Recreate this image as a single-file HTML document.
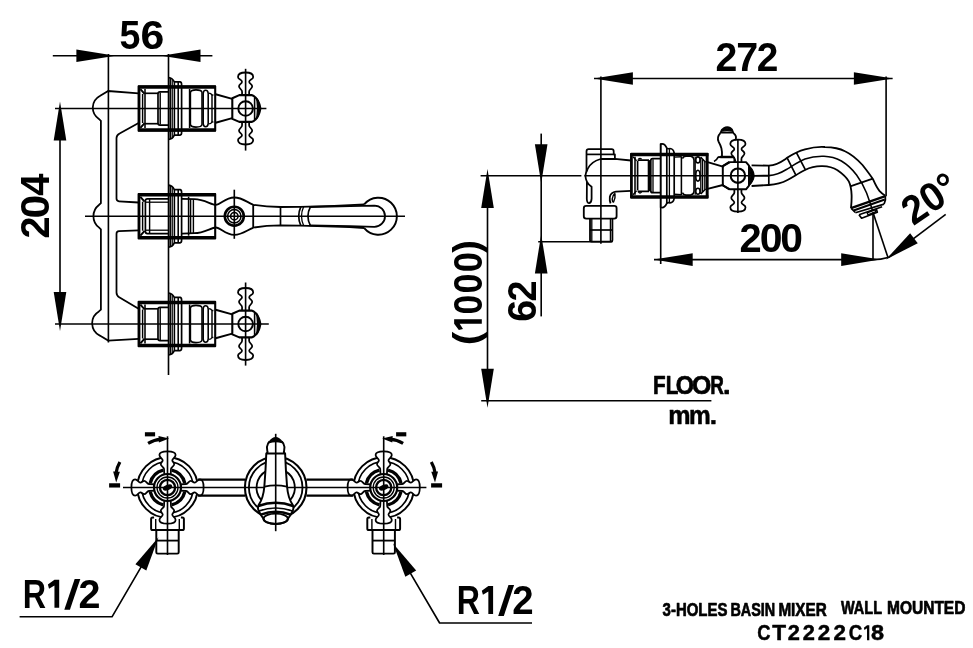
<!DOCTYPE html>
<html><head><meta charset="utf-8"><title>3-Holes Basin Mixer CT2222C18</title>
<style>
html,body{margin:0;padding:0;background:#fff;}
body{width:973px;height:648px;overflow:hidden;font-family:"Liberation Sans",sans-serif;}
svg{display:block;will-change:transform;opacity:0.999;}
svg text{font-family:"Liberation Sans",sans-serif;fill:#000;stroke:none;}
</style></head><body>
<svg width="973" height="648" viewBox="0 0 973 648" fill="none" stroke="#000" stroke-linecap="butt" stroke-linejoin="round">
<rect x="0" y="0" width="973" height="648" fill="#fff" stroke="none"/>
<!-- front view -->
<rect x="138.6" y="86.3" width="76.6" height="44.4" rx="0" stroke-width="2.08" fill="none"/>
<line x1="138" y1="87.2" x2="215.8" y2="87.2" stroke-width="3.19" />
<line x1="138" y1="129.8" x2="215.8" y2="129.8" stroke-width="3.19" />
<line x1="139.3" y1="86.5" x2="139.3" y2="130.5" stroke-width="2.21" />
<line x1="142.6" y1="94.0" x2="142.6" y2="123.0" stroke-width="1.43" />
<line x1="145" y1="89.0" x2="145" y2="128.0" stroke-width="1.56" />
<path d="M140.4,89.1 L144.6,93.9 M140.4,127.9 L144.6,123.1" stroke-width="1.95" fill="none" />
<line x1="145" y1="93.3" x2="158" y2="93.3" stroke-width="1.69" />
<line x1="145" y1="123.7" x2="158" y2="123.7" stroke-width="1.69" />
<path d="M168,91.9 L160,91.9 Q158,91.9 158,94.0 L158,123.0 Q158,125.1 160,125.1 L168,125.1" stroke-width="1.69" fill="none" />
<line x1="160.2" y1="92.5" x2="160.2" y2="124.5" stroke-width="1.43" />
<path d="M168.6,77.5 Q172.5,78.0 174.3,81.9 L180,81.9 Q181.6,82.1 181.6,84.5 L181.6,132.5 Q181.6,134.9 180,135.1 L174.3,135.1 Q172.5,139.0 168.6,139.5" stroke-width="1.69" fill="none" />
<line x1="170.2" y1="77.9" x2="170.2" y2="139.1" stroke-width="1.56" />
<line x1="172.2" y1="79.5" x2="172.2" y2="137.5" stroke-width="1.30" />
<line x1="174.4" y1="81.9" x2="174.4" y2="135.1" stroke-width="1.56" />
<line x1="178.2" y1="81.9" x2="178.2" y2="135.1" stroke-width="1.56" />
<line x1="189.6" y1="89.0" x2="189.6" y2="128.0" stroke-width="1.56" />
<path d="M190.4,92.5 Q191,89.9 196,89.9 Q201.6,89.9 202,92.5 L202,124.5 Q201.6,127.1 196,127.1 Q191,127.1 190.4,124.5 Z" stroke-width="1.56" fill="none" />
<path d="M203.2,93.5 Q203.4,90.3 205.6,90.3 Q208,90.3 208.2,93.5 L208.2,123.5 Q208,126.7 205.6,126.7 Q203.4,126.7 203.2,123.5 Z" stroke-width="1.56" fill="none" />
<path d="M208.8,93.1 Q211,93.1 212,95.0 L213.4,95.0 M208.8,123.9 Q211,123.9 212,122.0 L213.4,122.0" stroke-width="1.43" fill="none" />
<line x1="212" y1="95.0" x2="212" y2="122.0" stroke-width="1.43" />
<path d="M215.6,94.3 L232.2,98.9 M215.6,122.7 L232.2,118.1" stroke-width="1.95" fill="none" />
<path d="M232.3,98.3 L232.3,118.9 L239.3,121.9 L251.6,121.9 Q258.6,119.5 260.4,108.5 Q258.6,97.5 251.6,95.1 L239.3,95.1 Z" stroke-width="2.08" fill="none" />
<line x1="254.6" y1="96.9" x2="254.6" y2="120.1" stroke-width="1.56" />
<path d="M256.8,98.7 Q263.2,108.5 256.8,118.3 Q258.4,108.5 256.8,98.7 Z" stroke-width="1.30" fill="#000" />
<circle cx="245.6" cy="108.5" r="7.3" stroke-width="1.95" fill="none"/>
<path d="M-3.6,-13.4 L-3.5,-16.6 C-3.4,-19 -6.7,-20 -6.6,-22.3 C-6.5,-24.5 -3.6,-24.8 -3.6,-26.8 C-3.6,-29 -7.6,-29 -7.6,-31.6 C-7.6,-34.6 -4.5,-36 0,-36 C4.5,-36 7.6,-34.6 7.6,-31.6 C7.6,-29 3.6,-29 3.6,-26.8 C3.6,-24.8 6.5,-24.5 6.6,-22.3 C6.7,-20 3.4,-19 3.5,-16.6 L3.6,-13.4" transform="translate(245.6,108.5) rotate(0)" stroke-width="1.76"/>
<path d="M-3.6,-13.4 L-3.5,-16.6 C-3.4,-19 -6.7,-20 -6.6,-22.3 C-6.5,-24.5 -3.6,-24.8 -3.6,-26.8 C-3.6,-29 -7.6,-29 -7.6,-31.6 C-7.6,-34.6 -4.5,-36 0,-36 C4.5,-36 7.6,-34.6 7.6,-31.6 C7.6,-29 3.6,-29 3.6,-26.8 C3.6,-24.8 6.5,-24.5 6.6,-22.3 C6.7,-20 3.4,-19 3.5,-16.6 L3.6,-13.4" transform="translate(245.6,108.5) rotate(180)" stroke-width="1.76"/>
<line x1="245.6" y1="68.8" x2="245.6" y2="150.6" stroke-width="1.62" />
<rect x="138.6" y="301.8" width="76.6" height="44.4" rx="0" stroke-width="2.08" fill="none"/>
<line x1="138" y1="302.7" x2="215.8" y2="302.7" stroke-width="3.19" />
<line x1="138" y1="345.3" x2="215.8" y2="345.3" stroke-width="3.19" />
<line x1="139.3" y1="302.0" x2="139.3" y2="346.0" stroke-width="2.21" />
<line x1="142.6" y1="309.5" x2="142.6" y2="338.5" stroke-width="1.43" />
<line x1="145" y1="304.5" x2="145" y2="343.5" stroke-width="1.56" />
<path d="M140.4,304.6 L144.6,309.4 M140.4,343.4 L144.6,338.6" stroke-width="1.95" fill="none" />
<line x1="145" y1="308.8" x2="158" y2="308.8" stroke-width="1.69" />
<line x1="145" y1="339.2" x2="158" y2="339.2" stroke-width="1.69" />
<path d="M168,307.4 L160,307.4 Q158,307.4 158,309.5 L158,338.5 Q158,340.6 160,340.6 L168,340.6" stroke-width="1.69" fill="none" />
<line x1="160.2" y1="308.0" x2="160.2" y2="340.0" stroke-width="1.43" />
<path d="M168.6,293.0 Q172.5,293.5 174.3,297.4 L180,297.4 Q181.6,297.6 181.6,300.0 L181.6,348.0 Q181.6,350.4 180,350.6 L174.3,350.6 Q172.5,354.5 168.6,355.0" stroke-width="1.69" fill="none" />
<line x1="170.2" y1="293.4" x2="170.2" y2="354.6" stroke-width="1.56" />
<line x1="172.2" y1="295.0" x2="172.2" y2="353.0" stroke-width="1.30" />
<line x1="174.4" y1="297.4" x2="174.4" y2="350.6" stroke-width="1.56" />
<line x1="178.2" y1="297.4" x2="178.2" y2="350.6" stroke-width="1.56" />
<line x1="189.6" y1="304.5" x2="189.6" y2="343.5" stroke-width="1.56" />
<path d="M190.4,308.0 Q191,305.4 196,305.4 Q201.6,305.4 202,308.0 L202,340.0 Q201.6,342.6 196,342.6 Q191,342.6 190.4,340.0 Z" stroke-width="1.56" fill="none" />
<path d="M203.2,309.0 Q203.4,305.8 205.6,305.8 Q208,305.8 208.2,309.0 L208.2,339.0 Q208,342.2 205.6,342.2 Q203.4,342.2 203.2,339.0 Z" stroke-width="1.56" fill="none" />
<path d="M208.8,308.6 Q211,308.6 212,310.5 L213.4,310.5 M208.8,339.4 Q211,339.4 212,337.5 L213.4,337.5" stroke-width="1.43" fill="none" />
<line x1="212" y1="310.5" x2="212" y2="337.5" stroke-width="1.43" />
<path d="M215.6,309.8 L232.2,314.4 M215.6,338.2 L232.2,333.6" stroke-width="1.95" fill="none" />
<path d="M232.3,313.8 L232.3,334.4 L239.3,337.4 L251.6,337.4 Q258.6,335.0 260.4,324.0 Q258.6,313.0 251.6,310.6 L239.3,310.6 Z" stroke-width="2.08" fill="none" />
<line x1="254.6" y1="312.4" x2="254.6" y2="335.6" stroke-width="1.56" />
<path d="M256.8,314.2 Q263.2,324.0 256.8,333.8 Q258.4,324.0 256.8,314.2 Z" stroke-width="1.30" fill="#000" />
<circle cx="245.6" cy="324.0" r="7.3" stroke-width="1.95" fill="none"/>
<path d="M-3.6,-13.4 L-3.5,-16.6 C-3.4,-19 -6.7,-20 -6.6,-22.3 C-6.5,-24.5 -3.6,-24.8 -3.6,-26.8 C-3.6,-29 -7.6,-29 -7.6,-31.6 C-7.6,-34.6 -4.5,-36 0,-36 C4.5,-36 7.6,-34.6 7.6,-31.6 C7.6,-29 3.6,-29 3.6,-26.8 C3.6,-24.8 6.5,-24.5 6.6,-22.3 C6.7,-20 3.4,-19 3.5,-16.6 L3.6,-13.4" transform="translate(245.6,324.0) rotate(0)" stroke-width="1.76"/>
<path d="M-3.6,-13.4 L-3.5,-16.6 C-3.4,-19 -6.7,-20 -6.6,-22.3 C-6.5,-24.5 -3.6,-24.8 -3.6,-26.8 C-3.6,-29 -7.6,-29 -7.6,-31.6 C-7.6,-34.6 -4.5,-36 0,-36 C4.5,-36 7.6,-34.6 7.6,-31.6 C7.6,-29 3.6,-29 3.6,-26.8 C3.6,-24.8 6.5,-24.5 6.6,-22.3 C6.7,-20 3.4,-19 3.5,-16.6 L3.6,-13.4" transform="translate(245.6,324.0) rotate(180)" stroke-width="1.76"/>
<line x1="245.6" y1="282.5" x2="245.6" y2="365.6" stroke-width="1.62" />
<line x1="55" y1="108.5" x2="266.4" y2="108.5" stroke-width="1.62" />
<line x1="55" y1="324.0" x2="268.8" y2="324.0" stroke-width="1.62" />
<rect x="138.6" y="194.0" width="76.6" height="44.4" rx="0" stroke-width="2.08" fill="none"/>
<line x1="138" y1="194.89999999999998" x2="215.8" y2="194.89999999999998" stroke-width="3.19" />
<line x1="138" y1="237.5" x2="215.8" y2="237.5" stroke-width="3.19" />
<line x1="139.3" y1="194.2" x2="139.3" y2="238.2" stroke-width="2.21" />
<line x1="142.6" y1="201.7" x2="142.6" y2="230.7" stroke-width="1.43" />
<path d="M140.4,196.79999999999998 L144.6,201.6 M140.4,235.6 L144.6,230.79999999999998" stroke-width="1.95" fill="none" />
<path d="M168,198.79999999999998 L147.4,198.79999999999998 Q145.4,198.79999999999998 145.4,200.79999999999998 L145.4,231.6 Q145.4,233.6 147.4,233.6 L168,233.6" stroke-width="1.69" fill="none" />
<line x1="149.6" y1="199.2" x2="149.6" y2="233.2" stroke-width="1.43" />
<line x1="145.4" y1="202.2" x2="168" y2="202.2" stroke-width="1.30" />
<line x1="145.4" y1="230.2" x2="168" y2="230.2" stroke-width="1.30" />
<path d="M168.6,185.2 Q172.5,185.7 174.3,189.6 L180,189.6 Q181.6,189.79999999999998 181.6,192.2 L181.6,240.2 Q181.6,242.6 180,242.79999999999998 L174.3,242.79999999999998 Q172.5,246.7 168.6,247.2" stroke-width="1.69" fill="none" />
<line x1="170.2" y1="185.6" x2="170.2" y2="246.79999999999998" stroke-width="1.56" />
<line x1="172.2" y1="187.2" x2="172.2" y2="245.2" stroke-width="1.30" />
<line x1="174.4" y1="189.6" x2="174.4" y2="242.79999999999998" stroke-width="1.56" />
<line x1="178.2" y1="189.6" x2="178.2" y2="242.79999999999998" stroke-width="1.56" />
<line x1="188.6" y1="196.7" x2="188.6" y2="235.7" stroke-width="1.56" />
<line x1="190.6" y1="199.0" x2="190.6" y2="233.39999999999998" stroke-width="1.43" />
<line x1="193.4" y1="199.0" x2="193.4" y2="233.39999999999998" stroke-width="1.43" />
<path d="M182,198.79999999999998 L194.4,199.2 C204,199.29999999999998 211,204.6 215.8,204.89999999999998 C220.6,205.0 225,197.5 234.3,197.5 C242,197.5 247,202.2 253,204.6" stroke-width="1.82" fill="none" />
<path d="M182,233.6 L194.4,233.2 C204,233.1 211,227.79999999999998 215.8,227.5 C220.6,227.39999999999998 225,234.89999999999998 234.3,234.89999999999998 C242,234.89999999999998 247,230.2 253,227.79999999999998" stroke-width="1.82" fill="none" />
<line x1="253.2" y1="204.2" x2="253.2" y2="228.2" stroke-width="1.82" />
<circle cx="234.3" cy="216.2" r="9.5" stroke-width="2.60" fill="none"/>
<circle cx="234.3" cy="216.2" r="6.7" stroke-width="1.56" fill="none"/>
<circle cx="234.3" cy="216.2" r="3.7" stroke-width="1.56" fill="none"/>
<line x1="234.3" y1="189.7" x2="234.3" y2="238.79999999999998" stroke-width="1.62" />
<path d="M253.2,204.79999999999998 Q266,206.79999999999998 280.5,207.0 L300,206.79999999999998 Q336,206.2 364.4,204.39999999999998" stroke-width="1.82" fill="none" />
<path d="M253.2,227.6 Q266,225.6 280.5,225.39999999999998 L300,225.6 Q336,226.2 364.4,228.0" stroke-width="1.82" fill="none" />
<line x1="280.5" y1="207.0" x2="280.5" y2="225.39999999999998" stroke-width="1.69" />
<path d="M300.8,206.79999999999998 Q296.6,216.2 300.8,225.6" stroke-width="1.69" fill="none" />
<path d="M303.6,206.79999999999998 Q299.4,216.2 303.6,225.6" stroke-width="1.30" fill="none" />
<path d="M310.4,206.79999999999998 Q305.4,216.2 310.4,225.6" stroke-width="1.69" fill="none" />
<path d="M309.4,207.0 L350,206.2 L374.4,205.6 A10.6,10.6 0 0 1 374.4,226.79999999999998 L350,226.2 L309.4,225.39999999999998" stroke-width="1.82" fill="none" />
<path d="M364.2,204.29999999999998 A18.5,18.5 0 1 1 364.2,228.1" stroke-width="1.95" fill="none" />
<line x1="85" y1="216.2" x2="405" y2="216.2" stroke-width="1.62" />
<path d="M138.6,93.4 L108.2,91.0 L99.8,95.9 A13.4,13.4 0 0 0 98.9,118.9 L100.9,120.8 L100.9,203.1 L98.9,205.0 A14.2,14.2 0 0 0 98.9,227.39999999999998 L100.9,229.29999999999998 L100.9,309.6 L98.9,311.4 A13.8,13.8 0 0 0 99.8,335.6 L108.2,340.6 L138.6,338.8" stroke-width="1.76" fill="none" stroke-linejoin="miter"/>
<path d="M138.6,123.1 L119.6,133.5 Q116.5,135.1 116.5,138.1 L116.5,198.6 Q116.5,201.2 119,201.29999999999998 L138.6,202.5" stroke-width="1.76" fill="none" />
<path d="M138.6,230.29999999999998 L119,231.1 Q116.5,231.2 116.5,233.79999999999998 L116.5,292.4 Q116.5,295.4 119.2,297.2 L138.6,308.7" stroke-width="1.76" fill="none" />
<line x1="52.8" y1="55.8" x2="212.4" y2="55.8" stroke-width="1.62" />
<polygon points="115.40,55.80 76.40,62.10 76.40,49.50" fill="#000" stroke="none"/>
<polygon points="161.50,55.80 200.50,49.50 200.50,62.10" fill="#000" stroke="none"/>
<line x1="108.4" y1="54" x2="108.4" y2="342.5" stroke-width="1.62" />
<line x1="168.5" y1="54" x2="168.5" y2="375" stroke-width="1.62" />
<g><text transform="translate(119.54,48.70) scale(0.9100,1)" font-size="41.3" font-weight="bold" >5</text><text transform="translate(140.53,48.70) scale(1.0368,1)" font-size="41.3" font-weight="bold" >6</text></g>
<line x1="60" y1="118.5" x2="60" y2="314.0" stroke-width="1.62" />
<polygon points="60.00,101.50 66.30,140.50 53.70,140.50" fill="#000" stroke="none"/>
<polygon points="60.00,331.00 53.70,292.00 66.30,292.00" fill="#000" stroke="none"/>
<g transform="translate(49.0,237.2) rotate(-90)"><text transform="translate(-1.38,0.00) scale(0.9629,1)" font-size="41.2" font-weight="bold" >2</text><text transform="translate(18.66,0.00) scale(1.0386,1)" font-size="41.2" font-weight="bold" >0</text><text transform="translate(41.35,0.00) scale(0.9674,1)" font-size="41.2" font-weight="bold" >4</text></g>
<!-- side view -->
<rect x="631.2" y="153.89999999999998" width="76.4" height="43.6" rx="0" stroke-width="2.08" fill="none"/>
<line x1="630.4" y1="154.7" x2="708.4" y2="154.7" stroke-width="3.19" />
<line x1="630.4" y1="196.89999999999998" x2="708.4" y2="196.89999999999998" stroke-width="3.19" />
<line x1="631.5" y1="153.7" x2="631.5" y2="197.7" stroke-width="2.47" />
<line x1="706.8" y1="153.7" x2="706.8" y2="197.7" stroke-width="2.21" />
<line x1="635" y1="156.7" x2="635" y2="194.7" stroke-width="1.56" />
<path d="M633,156.7 L636.6,160.7 M633,194.7 L636.6,190.7" stroke-width="1.30" fill="none" />
<path d="M637.6,161.1 L637.6,190.29999999999998 M637.6,160.1 L649,160.1 M637.6,191.29999999999998 L649,191.29999999999998" stroke-width="1.69" fill="none" />
<path d="M638.4,159.29999999999998 q1.6,-1.8 3.2,0 M638.4,192.1 q1.6,1.8 3.2,0" stroke-width="1.30" fill="none" />
<line x1="649" y1="160.1" x2="649" y2="191.29999999999998" stroke-width="2.60" />
<path d="M660.6,158.7 L652.6,158.7 Q650.8,158.7 650.8,160.7 L650.8,190.7 Q650.8,192.7 652.6,192.7 L660.6,192.7" stroke-width="1.69" fill="none" />
<line x1="653" y1="159.29999999999998" x2="653" y2="192.1" stroke-width="1.30" />
<path d="M660.4,144.1 Q664.4,142.7 666.6,147.7 Q667.6,149.29999999999998 670,148.5 Q673.4,148.7 674.2,153.1 M660.4,207.29999999999998 Q664.4,208.7 666.6,203.7 Q667.6,202.1 670,202.89999999999998 Q673.4,202.7 674.2,198.29999999999998" stroke-width="1.69" fill="none" />
<line x1="660.6" y1="143.7" x2="660.6" y2="207.7" stroke-width="1.56" />
<line x1="666.8" y1="148.1" x2="666.8" y2="203.29999999999998" stroke-width="1.69" />
<line x1="669.4" y1="149.1" x2="669.4" y2="202.29999999999998" stroke-width="1.30" />
<line x1="674.2" y1="152.7" x2="674.2" y2="198.7" stroke-width="1.69" />
<line x1="681.4" y1="156.29999999999998" x2="681.4" y2="195.1" stroke-width="1.56" />
<path d="M674.4,157.1 L681.4,156.7  M674.4,194.29999999999998 L681.4,194.7" stroke-width="1.43" fill="none" />
<path d="M682.6,158.7 Q683,156.29999999999998 686,156.29999999999998 L690.6,156.29999999999998 Q693.8,156.7 694,160.1 L694,191.29999999999998 Q693.8,194.7 690.6,195.1 L686,195.1 Q683,195.1 682.6,192.7" stroke-width="1.56" fill="none" />
<line x1="695.2" y1="156.7" x2="695.2" y2="194.7" stroke-width="1.30" />
<line x1="700.8" y1="157.29999999999998" x2="700.8" y2="194.1" stroke-width="1.30" />
<ellipse cx="697.9" cy="159.9" rx="2.1" ry="3.0" stroke-width="1.56"/>
<ellipse cx="697.9" cy="175.7" rx="2.1" ry="5.4" stroke-width="1.56"/>
<ellipse cx="697.9" cy="191.3" rx="2.1" ry="3.0" stroke-width="1.56"/>
<path d="M700.8,157.29999999999998 L705.6,162.29999999999998 M700.8,194.1 L705.6,189.1" stroke-width="1.43" fill="none" />
<line x1="702.6" y1="159.29999999999998" x2="702.6" y2="192.1" stroke-width="1.30" />
<line x1="704.8" y1="161.7" x2="704.8" y2="189.7" stroke-width="1.30" />
<path d="M707.6,162.1 L723.8,166.89999999999998 M707.6,188.89999999999998 L723.8,184.7" stroke-width="1.95" fill="none" />
<path d="M714,161.5 Q716.8,160.29999999999998 718,157.29999999999998 L721.6,156.79999999999998" stroke-width="1.69" fill="none" />
<path d="M722,156.29999999999998 Q722.2,151.7 721.4,148.29999999999998 Q720.4,144.7 718.6,141.7 Q716.6,137.1 720.4,133.1 M733.2,133.1 Q737.4,136.1 735.4,140.29999999999998" stroke-width="1.82" fill="none" />
<path d="M720.6,132.7 Q721.4,129.29999999999998 724,128.1 Q727.2,126.1 730.4,128.1 Q732.8,129.29999999999998 733.2,132.7 Z" stroke-width="1.82" fill="none" />
<path d="M721.8,131.1 Q727,124.69999999999999 732.2,131.1 Q727,130.1 721.8,131.1 Z" stroke-width="1.30" fill="#000" />
<line x1="720.2" y1="157.0" x2="734" y2="157.0" stroke-width="2.47" />
<path d="M718,157.29999999999998 L720.2,157.0 M734,157.0 L735.8,161.7" stroke-width="1.56" fill="none" />
<path d="M722.8,166.1 L722.8,185.29999999999998 L730,189.29999999999998 L746,189.29999999999998 L749,185.7 L749,165.7 L746,162.1 L730,162.1 Z" stroke-width="1.95" fill="none" />
<path d="M722.8,166.1 L729.4,161.89999999999998 M722.8,185.29999999999998 L729.4,189.5" stroke-width="1.95" fill="none" />
<circle cx="737.9" cy="175.7" r="7.2" stroke-width="2.08" fill="none"/>
<path d="M749,166.1 Q755.4,175.7 749,185.29999999999998" stroke-width="1.56" fill="none" />
<path d="M750,166.7 Q758.2,175.7 750,184.7 Q751.4,175.7 750,166.7 Z" stroke-width="1.04" fill="#000" />
<path d="M-3.6,-13.4 L-3.5,-16.6 C-3.4,-19 -6.7,-20 -6.6,-22.3 C-6.5,-24.5 -3.6,-24.8 -3.6,-26.8 C-3.6,-29 -7.6,-29 -7.6,-31.6 C-7.6,-34.6 -4.5,-36 0,-36 C4.5,-36 7.6,-34.6 7.6,-31.6 C7.6,-29 3.6,-29 3.6,-26.8 C3.6,-24.8 6.5,-24.5 6.6,-22.3 C6.7,-20 3.4,-19 3.5,-16.6 L3.6,-13.4" transform="translate(737.9,175.7) rotate(0)" stroke-width="1.76"/>
<path d="M-3.6,-13.4 L-3.5,-16.6 C-3.4,-19 -6.7,-20 -6.6,-22.3 C-6.5,-24.5 -3.6,-24.8 -3.6,-26.8 C-3.6,-29 -7.6,-29 -7.6,-31.6 C-7.6,-34.6 -4.5,-36 0,-36 C4.5,-36 7.6,-34.6 7.6,-31.6 C7.6,-29 3.6,-29 3.6,-26.8 C3.6,-24.8 6.5,-24.5 6.6,-22.3 C6.7,-20 3.4,-19 3.5,-16.6 L3.6,-13.4" transform="translate(737.9,175.7) rotate(180)" stroke-width="1.76"/>
<line x1="737.9" y1="139.29999999999998" x2="737.9" y2="213.1" stroke-width="1.62" />
<path d="M751.6,165.4 L768.8,165.6 C778,165 783,160.6 787.5,157.6 C794,153.4 799,151 805,149.4 C812,147.4 819,146.6 825,147 C833,147.2 840,148.6 845,151.2 C853,155 858,160 862.5,165 C868,172 870.6,175.4 873.2,179.6 C875.6,185 877.4,188.4 879.4,190.8 C881.4,193 883.4,194.6 885.4,195.8" stroke-width="1.82" fill="none" />
<path d="M751.6,186 L768.8,185 C778,184.4 783,182.4 787.5,180 C794,176.4 799,173 805,170 C811,167 817,166 822.5,166.2 C829,166.4 833.6,167.8 837.5,170.2 C843,174 846.4,177 848.8,181.4 C850.6,185 851.4,190 851.6,195 C851.8,200 851.4,204 851,208.1" stroke-width="1.82" fill="none" />
<path d="M753.8,175.7 L768.8,175.6 C778,175 783,171.6 787.5,168.8 C794,164.8 799,161.4 805,159 C811,156.8 818,156 824,156.2 C831,156.4 836,158 841.4,161 C848,165 852.6,169.6 856.6,175 C861,181 864.4,187.6 866.6,193 C868.6,198.4 870.6,204 872.6,211" stroke-width="1.56" fill="none" />
<line x1="768.8" y1="165.6" x2="768.8" y2="185" stroke-width="1.69" />
<path d="M787,157.6 L796,175.4 M796.4,152.6 L805.6,170.2" stroke-width="1.69" fill="none" />
<path d="M850.2,186.4 L872.8,178.6" stroke-width="1.69" fill="none" />
<path d="M851,208.1 L885.3,196.1" stroke-width="2.47" fill="none" />
<path d="M853.6,210.4 L884.8,199.6" stroke-width="2.08" fill="none" />
<path d="M851,208.1 L855.3,212.5 M885.3,196.1 L885.4,200 L884.1,204.1" stroke-width="1.69" fill="none" />
<path d="M855.4,212.7 L884.1,204.1" stroke-width="1.69" fill="none" />
<path d="M859,214.8 L882.1,206.7" stroke-width="1.69" fill="none" />
<path d="M859,214.8 L861.6,218.2 L877.3,212.3 L876.3,209" stroke-width="1.69" fill="none" />
<path d="M867.1,212.9 L875.1,209.9 L875.9,211.7 L868,214.8 Z" stroke-width="1.30" fill="none" />
<path d="M586.5,171.6 L586.5,151.4 Q586.5,149.2 588.7,149.2 L611.6,149.2 Q613.7,149.2 613.7,151.4 L613.7,154.4 L614.9,154.4 L614.9,158.8" stroke-width="1.76" fill="none" />
<line x1="586.5" y1="154.4" x2="613.7" y2="154.4" stroke-width="1.69" />
<path d="M600.6,159 L614.9,158.9 L631,160.5" stroke-width="1.76" fill="none" />
<path d="M600.6,159 Q591,161.6 587.6,169 Q585.8,172.4 585.4,175.7 Q585.6,179 587,181.8 Q588.4,184.6 591.6,186.8 L591.6,198.6 Q591.4,202.6 589.2,203.2 Q587,203.2 586.8,199 L586.9,182" stroke-width="1.76" fill="none" />
<path d="M631,190.8 L616,191.7 Q610.6,192.4 609.8,197 Q609.4,200.4 610.6,203.4" stroke-width="1.76" fill="none" />
<path d="M615,193.4 Q612.4,195.4 612.2,199 Q612.4,202.4 613.6,202 Q615.6,198.4 615,193.4" stroke-width="1.43" fill="none" />
<rect x="583.8" y="205.8" width="32.8" height="12.8" rx="2.4" stroke-width="1.82" fill="none"/>
<path d="M590,218.6 L590,240 Q590,241.6 591.6,241.6 L610.8,241.6 Q612.4,241.6 612.4,240 L612.4,218.6" stroke-width="1.82" fill="none" />
<line x1="590" y1="230" x2="612.4" y2="230" stroke-width="1.69" />
<line x1="591.8" y1="218.6" x2="591.8" y2="241.6" stroke-width="1.30" />
<line x1="610.4" y1="218.6" x2="610.4" y2="241.6" stroke-width="1.30" />
<line x1="480.6" y1="175.7" x2="581.4" y2="175.7" stroke-width="1.62" />
<line x1="584.4" y1="175.7" x2="768.8" y2="175.7" stroke-width="1.62" />
<line x1="600.9" y1="76.6" x2="600.9" y2="243.8" stroke-width="1.62" />
<line x1="594" y1="78.5" x2="892.6" y2="78.5" stroke-width="1.62" />
<polygon points="593.90,78.50 632.90,72.20 632.90,84.80" fill="#000" stroke="none"/>
<polygon points="892.90,78.50 853.90,84.80 853.90,72.20" fill="#000" stroke="none"/>
<line x1="886.1" y1="76.6" x2="886.1" y2="196.2" stroke-width="1.62" />
<g><text transform="translate(715.54,70.90) scale(0.9717,1)" font-size="40.4" font-weight="bold" >2</text><text transform="translate(736.31,70.90) scale(0.9759,1)" font-size="40.4" font-weight="bold" >7</text><text transform="translate(756.65,70.90) scale(0.9614,1)" font-size="40.4" font-weight="bold" >2</text></g>
<line x1="654" y1="259.6" x2="873" y2="259.6" stroke-width="1.62" />
<polygon points="653.70,259.60 692.70,253.30 692.70,265.90" fill="#000" stroke="none"/>
<polygon points="880.20,259.60 841.20,265.90 841.20,253.30" fill="#000" stroke="none"/>
<line x1="660.7" y1="143.6" x2="660.7" y2="264" stroke-width="1.62" />
<line x1="873" y1="212.4" x2="873" y2="259.8" stroke-width="1.62" />
<g><text transform="translate(739.42,252.00) scale(0.9871,1)" font-size="40.4" font-weight="bold" >2</text><text transform="translate(759.78,252.00) scale(1.0149,1)" font-size="40.4" font-weight="bold" >0</text><text transform="translate(780.29,252.00) scale(1.0097,1)" font-size="40.4" font-weight="bold" >0</text></g>
<line x1="873" y1="212.4" x2="888" y2="257.6" stroke-width="1.62" />
<path d="M873,259.6 Q881,259.6 888,257.4" stroke-width="1.62" fill="none" />
<line x1="888.4" y1="257.6" x2="945.7" y2="214.3" stroke-width="1.62" />
<polygon points="886.01,259.41 910.13,233.28 917.73,243.33" fill="#000" stroke="none"/>
<text transform="translate(913.2,226.3) rotate(-34)" font-size="40.5" font-weight="bold" textLength="58.5" lengthAdjust="spacingAndGlyphs">20°</text>
<line x1="541.2" y1="133.6" x2="541.2" y2="316.4" stroke-width="1.62" />
<polygon points="541.20,183.30 534.90,144.30 547.50,144.30" fill="#000" stroke="none"/>
<polygon points="541.20,234.40 547.50,273.40 534.90,273.40" fill="#000" stroke="none"/>
<line x1="538.2" y1="241.8" x2="612.4" y2="241.8" stroke-width="1.62" />
<g transform="translate(535.5,320.4) rotate(-90)"><text transform="translate(-1.44,0.00) scale(0.9681,1)" font-size="40.6" font-weight="bold" >6</text><text transform="translate(18.99,0.00) scale(0.9311,1)" font-size="40.6" font-weight="bold" >2</text></g>
<line x1="487.5" y1="183.7" x2="487.5" y2="396" stroke-width="1.62" />
<polygon points="487.50,169.00 493.80,208.00 481.20,208.00" fill="#000" stroke="none"/>
<polygon points="487.50,407.80 481.20,368.80 493.80,368.80" fill="#000" stroke="none"/>
<line x1="481.2" y1="400.8" x2="711.4" y2="400.8" stroke-width="1.62" />
<g transform="translate(481.8,343.25) rotate(-90)"><text transform="translate(-2.03,-3.20) scale(1.1287,1)" font-size="36.1" font-weight="bold" >(</text><polygon points="19.48,-27.66 24.00,-27.66 24.00,0.00 19.48,0.00 19.48,-22.13 14.32,-18.81 13.25,-22.96" fill="#000" stroke="none"/><text transform="translate(28.69,0.00) scale(0.8840,1)" font-size="40.2" font-weight="bold" >0</text><text transform="translate(49.78,0.00) scale(0.8918,1)" font-size="40.2" font-weight="bold" >0</text><text transform="translate(71.07,0.00) scale(0.8996,1)" font-size="40.2" font-weight="bold" >0</text><text transform="translate(90.46,-3.20) scale(1.0502,1)" font-size="36.1" font-weight="bold" >)</text></g>
<g><text transform="translate(653.12,394.40) scale(0.7900,1)" font-size="26.2" font-weight="bold" style="stroke:#000;stroke-width:0.7px">F</text><text transform="translate(665.72,394.40) scale(0.7884,1)" font-size="26.2" font-weight="bold" style="stroke:#000;stroke-width:0.7px">L</text><text transform="translate(675.74,394.40) scale(0.8954,1)" font-size="26.2" font-weight="bold" style="stroke:#000;stroke-width:0.7px">O</text><text transform="translate(691.98,394.40) scale(0.9448,1)" font-size="26.2" font-weight="bold" style="stroke:#000;stroke-width:0.7px">O</text><text transform="translate(710.34,394.40) scale(0.7216,1)" font-size="26.2" font-weight="bold" style="stroke:#000;stroke-width:0.7px">R</text><text transform="translate(723.07,394.40) scale(1.0278,1)" font-size="26.2" font-weight="bold" style="stroke:#000;stroke-width:0.7px">.</text></g>
<g><text transform="translate(668.35,423.50) scale(1.0036,1)" font-size="25.0" font-weight="bold" style="stroke:#000;stroke-width:0.5px">m</text><text transform="translate(688.99,423.50) scale(0.9774,1)" font-size="25.0" font-weight="bold" style="stroke:#000;stroke-width:0.5px">m</text><text transform="translate(709.72,423.50) scale(1.0488,1)" font-size="25.0" font-weight="bold" style="stroke:#000;stroke-width:0.5px">.</text></g>
<!-- bottom view -->
<circle cx="167.5" cy="487.5" r="30.3" stroke-width="1.95" fill="none"/>
<circle cx="167.5" cy="487.5" r="25.8" stroke-width="1.69" fill="none"/>
<path d="M184.77,491.81 A17.8,17.8 0 0 1 171.81,504.77" stroke-width="3.38" fill="none" />
<path d="M163.19,504.77 A17.8,17.8 0 0 1 150.23,491.81" stroke-width="3.38" fill="none" />
<path d="M150.23,483.19 A17.8,17.8 0 0 1 163.19,470.23" stroke-width="3.38" fill="none" />
<path d="M171.81,470.23 A17.8,17.8 0 0 1 184.77,483.19" stroke-width="3.38" fill="none" />
<path d="M-3.2,-13 L-3.5,-18.6 C-3.6,-20.6 -6.9,-21.4 -6.7,-23.4 C-6.6,-25 -4.7,-25.6 -4.8,-27.2 C-4.9,-29 -8.1,-30 -8.1,-32.4 C-8.1,-35 -5,-36.1 0,-36.1 C5,-36.1 8.1,-35 8.1,-32.4 C8.1,-30 4.9,-29 4.8,-27.2 C4.7,-25.6 6.6,-25 6.7,-23.4 C6.9,-21.4 3.6,-20.6 3.5,-18.6 L3.2,-13" transform="translate(167.5,487.5) rotate(0)" stroke-width="1.76" fill="#fff"/>
<path d="M-3.2,-13 L-3.5,-18.6 C-3.6,-20.6 -6.9,-21.4 -6.7,-23.4 C-6.6,-25 -4.7,-25.6 -4.8,-27.2 C-4.9,-29 -8.1,-30 -8.1,-32.4 C-8.1,-35 -5,-36.1 0,-36.1 C5,-36.1 8.1,-35 8.1,-32.4 C8.1,-30 4.9,-29 4.8,-27.2 C4.7,-25.6 6.6,-25 6.7,-23.4 C6.9,-21.4 3.6,-20.6 3.5,-18.6 L3.2,-13" transform="translate(167.5,487.5) rotate(90)" stroke-width="1.76" fill="#fff"/>
<path d="M-3.2,-13 L-3.5,-18.6 C-3.6,-20.6 -6.9,-21.4 -6.7,-23.4 C-6.6,-25 -4.7,-25.6 -4.8,-27.2 C-4.9,-29 -8.1,-30 -8.1,-32.4 C-8.1,-35 -5,-36.1 0,-36.1 C5,-36.1 8.1,-35 8.1,-32.4 C8.1,-30 4.9,-29 4.8,-27.2 C4.7,-25.6 6.6,-25 6.7,-23.4 C6.9,-21.4 3.6,-20.6 3.5,-18.6 L3.2,-13" transform="translate(167.5,487.5) rotate(180)" stroke-width="1.76" fill="#fff"/>
<path d="M-3.2,-13 L-3.5,-18.6 C-3.6,-20.6 -6.9,-21.4 -6.7,-23.4 C-6.6,-25 -4.7,-25.6 -4.8,-27.2 C-4.9,-29 -8.1,-30 -8.1,-32.4 C-8.1,-35 -5,-36.1 0,-36.1 C5,-36.1 8.1,-35 8.1,-32.4 C8.1,-30 4.9,-29 4.8,-27.2 C4.7,-25.6 6.6,-25 6.7,-23.4 C6.9,-21.4 3.6,-20.6 3.5,-18.6 L3.2,-13" transform="translate(167.5,487.5) rotate(270)" stroke-width="1.76" fill="#fff"/>
<circle cx="167.5" cy="487.5" r="13.5" stroke-width="2.21" fill="#fff"/>
<circle cx="167.5" cy="487.5" r="10.5" stroke-width="1.30" fill="none"/>
<circle cx="167.5" cy="487.5" r="7.6" stroke-width="2.34" fill="none"/>
<ellipse cx="167.5" cy="487.5" rx="5" ry="2.6" transform="rotate(-22 167.5 487.5)" fill="#000" stroke="none"/>
<line x1="167.5" y1="436.3" x2="167.5" y2="555" stroke-width="1.62" />
<path d="M154.1,517.4 L152.7,517.4 Q151.1,517.4 151.1,519 L151.1,528.4 Q151.1,530 152.7,530 L182.29999999999998,530 Q183.89999999999998,530 183.89999999999998,528.4 L183.89999999999998,519 Q183.89999999999998,517.4 182.29999999999998,517.4 L180.9,517.4" stroke-width="1.95" fill="none" />
<line x1="155.7" y1="519" x2="155.7" y2="530" stroke-width="1.43" />
<line x1="179.29999999999998" y1="519" x2="179.29999999999998" y2="530" stroke-width="1.43" />
<path d="M156.3,530 L156.3,552.2 Q156.3,553.6 157.7,553.6 L177.3,553.6 Q178.7,553.6 178.7,552.2 L178.7,530" stroke-width="1.95" fill="none" />
<line x1="156.3" y1="540.6" x2="178.7" y2="540.6" stroke-width="1.82" />
<path d="M148.1,443.4 Q154.5,439.6 160.5,439.4" stroke-width="3.19" fill="none" />
<polygon points="169.10,438.60 158.92,442.52 158.52,435.93" fill="#000" stroke="none"/>
<line x1="144.9" y1="434.3" x2="155.1" y2="434.3" stroke-width="4.16" />
<path d="M119.9,462 Q116.5,468 116.1,473" stroke-width="3.19" fill="none" />
<polygon points="116.20,482.60 113.13,471.50 119.93,471.71" fill="#000" stroke="none"/>
<line x1="109.1" y1="485.4" x2="120.1" y2="485.4" stroke-width="4.29" />
<circle cx="383.7" cy="487.5" r="30.3" stroke-width="1.95" fill="none"/>
<circle cx="383.7" cy="487.5" r="25.8" stroke-width="1.69" fill="none"/>
<path d="M400.97,491.81 A17.8,17.8 0 0 1 388.01,504.77" stroke-width="3.38" fill="none" />
<path d="M379.39,504.77 A17.8,17.8 0 0 1 366.43,491.81" stroke-width="3.38" fill="none" />
<path d="M366.43,483.19 A17.8,17.8 0 0 1 379.39,470.23" stroke-width="3.38" fill="none" />
<path d="M388.01,470.23 A17.8,17.8 0 0 1 400.97,483.19" stroke-width="3.38" fill="none" />
<path d="M-3.2,-13 L-3.5,-18.6 C-3.6,-20.6 -6.9,-21.4 -6.7,-23.4 C-6.6,-25 -4.7,-25.6 -4.8,-27.2 C-4.9,-29 -8.1,-30 -8.1,-32.4 C-8.1,-35 -5,-36.1 0,-36.1 C5,-36.1 8.1,-35 8.1,-32.4 C8.1,-30 4.9,-29 4.8,-27.2 C4.7,-25.6 6.6,-25 6.7,-23.4 C6.9,-21.4 3.6,-20.6 3.5,-18.6 L3.2,-13" transform="translate(383.7,487.5) rotate(0)" stroke-width="1.76" fill="#fff"/>
<path d="M-3.2,-13 L-3.5,-18.6 C-3.6,-20.6 -6.9,-21.4 -6.7,-23.4 C-6.6,-25 -4.7,-25.6 -4.8,-27.2 C-4.9,-29 -8.1,-30 -8.1,-32.4 C-8.1,-35 -5,-36.1 0,-36.1 C5,-36.1 8.1,-35 8.1,-32.4 C8.1,-30 4.9,-29 4.8,-27.2 C4.7,-25.6 6.6,-25 6.7,-23.4 C6.9,-21.4 3.6,-20.6 3.5,-18.6 L3.2,-13" transform="translate(383.7,487.5) rotate(90)" stroke-width="1.76" fill="#fff"/>
<path d="M-3.2,-13 L-3.5,-18.6 C-3.6,-20.6 -6.9,-21.4 -6.7,-23.4 C-6.6,-25 -4.7,-25.6 -4.8,-27.2 C-4.9,-29 -8.1,-30 -8.1,-32.4 C-8.1,-35 -5,-36.1 0,-36.1 C5,-36.1 8.1,-35 8.1,-32.4 C8.1,-30 4.9,-29 4.8,-27.2 C4.7,-25.6 6.6,-25 6.7,-23.4 C6.9,-21.4 3.6,-20.6 3.5,-18.6 L3.2,-13" transform="translate(383.7,487.5) rotate(180)" stroke-width="1.76" fill="#fff"/>
<path d="M-3.2,-13 L-3.5,-18.6 C-3.6,-20.6 -6.9,-21.4 -6.7,-23.4 C-6.6,-25 -4.7,-25.6 -4.8,-27.2 C-4.9,-29 -8.1,-30 -8.1,-32.4 C-8.1,-35 -5,-36.1 0,-36.1 C5,-36.1 8.1,-35 8.1,-32.4 C8.1,-30 4.9,-29 4.8,-27.2 C4.7,-25.6 6.6,-25 6.7,-23.4 C6.9,-21.4 3.6,-20.6 3.5,-18.6 L3.2,-13" transform="translate(383.7,487.5) rotate(270)" stroke-width="1.76" fill="#fff"/>
<circle cx="383.7" cy="487.5" r="13.5" stroke-width="2.21" fill="#fff"/>
<circle cx="383.7" cy="487.5" r="10.5" stroke-width="1.30" fill="none"/>
<circle cx="383.7" cy="487.5" r="7.6" stroke-width="2.34" fill="none"/>
<ellipse cx="383.7" cy="487.5" rx="5" ry="2.6" transform="rotate(-22 383.7 487.5)" fill="#000" stroke="none"/>
<line x1="383.7" y1="436.3" x2="383.7" y2="555" stroke-width="1.62" />
<path d="M370.3,517.4 L368.90000000000003,517.4 Q367.3,517.4 367.3,519 L367.3,528.4 Q367.3,530 368.90000000000003,530 L398.5,530 Q400.1,530 400.1,528.4 L400.1,519 Q400.1,517.4 398.5,517.4 L397.1,517.4" stroke-width="1.95" fill="none" />
<line x1="371.90000000000003" y1="519" x2="371.90000000000003" y2="530" stroke-width="1.43" />
<line x1="395.5" y1="519" x2="395.5" y2="530" stroke-width="1.43" />
<path d="M372.5,530 L372.5,552.2 Q372.5,553.6 373.9,553.6 L393.5,553.6 Q394.9,553.6 394.9,552.2 L394.9,530" stroke-width="1.95" fill="none" />
<line x1="372.5" y1="540.6" x2="394.9" y2="540.6" stroke-width="1.82" />
<path d="M403.09999999999997,443.4 Q396.7,439.6 390.7,439.4" stroke-width="3.19" fill="none" />
<polygon points="382.10,438.60 392.68,435.93 392.28,442.52" fill="#000" stroke="none"/>
<line x1="406.3" y1="434.3" x2="396.09999999999997" y2="434.3" stroke-width="4.16" />
<path d="M431.3,462 Q434.7,468 435.09999999999997,473" stroke-width="3.19" fill="none" />
<polygon points="435.00,482.60 431.27,471.71 438.07,471.50" fill="#000" stroke="none"/>
<line x1="442.09999999999997" y1="485.4" x2="431.09999999999997" y2="485.4" stroke-width="4.29" />
<line x1="198" y1="479.7" x2="245" y2="479.7" stroke-width="2.34" />
<line x1="306.4" y1="479.7" x2="353.2" y2="479.7" stroke-width="2.34" />
<line x1="198" y1="495.7" x2="245" y2="495.7" stroke-width="2.34" />
<line x1="306.4" y1="495.7" x2="353.2" y2="495.7" stroke-width="2.34" />
<line x1="123" y1="487.5" x2="426.4" y2="487.5" stroke-width="1.62" />
<circle cx="275.7" cy="487.5" r="30.8" stroke-width="2.08" fill="none"/>
<circle cx="275.7" cy="487.5" r="26.8" stroke-width="1.82" fill="none"/>
<path d="M266.09999999999997,471.1 A19,19 0 0 0 261.09999999999997,499.9 M285.3,471.1 A19,19 0 0 1 290.3,499.9" stroke-width="1.82" fill="none" />
<path d="M266.3,453.4 Q265.7,470 264.3,487 Q263.3,498 258.9,504.6 Q257.3,507 258.5,510.4 L260.7,514.8 L263.5,518.8 A12.2,5.2 0 0 0 287.9,518.8 L290.7,514.8 L292.9,510.4 Q294.09999999999997,507 292.5,504.6 Q288.09999999999997,498 287.09999999999997,487 Q285.7,470 285.09999999999997,453.4 Z" stroke-width="1.95" fill="#fff" />
<path d="M266.3,453.6 Q268.09999999999997,452.6 267.3,451 Q266.09999999999997,447 268.09999999999997,443.4 L269.7,441.4 M285.09999999999997,453.6 Q283.3,452.6 284.09999999999997,451 Q285.3,447 283.3,443.4 L281.7,441.4" stroke-width="1.95" fill="none" />
<path d="M269.09999999999997,442.4 Q275.7,433.4 282.3,442.4 Q275.7,440.6 269.09999999999997,442.4 Z" stroke-width="1.69" fill="#000" />
<path d="M264.5,486.6 Q275.7,484.2 286.9,486.6" stroke-width="1.69" fill="none" />
<path d="M258.3,506 Q275.7,499.6 293.09999999999997,506" stroke-width="2.60" fill="none" />
<path d="M258.9,511 Q275.7,505 292.5,511" stroke-width="1.69" fill="none" />
<path d="M260.7,514.6 Q275.7,508.8 290.7,514.6" stroke-width="2.60" fill="none" />
<ellipse cx="275.7" cy="518.8" rx="12.2" ry="5.2" stroke-width="1.95"/>
<line x1="275.7" y1="433.8" x2="275.7" y2="531.2" stroke-width="1.62" />
<path d="M19.6,616.8 L112,616.8 L148,555.2" stroke-width="1.62" fill="none" />
<polygon points="158.51,537.21 146.29,570.61 135.41,564.25" fill="#000" stroke="none"/>
<g><text transform="translate(22.64,607.80) scale(0.7935,1)" font-size="40.7" font-weight="bold" >R</text><polygon points="54.45,579.80 59.20,579.80 59.20,607.80 54.45,607.80 54.45,585.40 49.03,588.76 47.90,584.56" fill="#000" stroke="none"/><polygon points="74.68,578.90 80.30,578.90 69.92,609.83 64.30,609.83" fill="#000" stroke="none"/><text transform="translate(78.38,607.80) scale(0.9722,1)" font-size="40.7" font-weight="bold" >2</text></g>
<path d="M532,623 L439.6,623 L403.6,561.6" stroke-width="1.62" fill="none" />
<polygon points="393.09,543.41 416.19,570.45 405.31,576.81" fill="#000" stroke="none"/>
<g><text transform="translate(456.65,613.90) scale(0.7896,1)" font-size="40.7" font-weight="bold" >R</text><polygon points="488.35,585.90 493.10,585.90 493.10,613.90 488.35,613.90 488.35,591.50 482.93,594.86 481.80,590.66" fill="#000" stroke="none"/><polygon points="508.48,585.00 514.10,585.00 503.82,615.93 498.20,615.93" fill="#000" stroke="none"/><text transform="translate(512.27,613.90) scale(0.9441,1)" font-size="40.7" font-weight="bold" >2</text></g>
<text x="662.6" y="616" font-size="18.8" font-weight="bold" textLength="64.8" lengthAdjust="spacingAndGlyphs" style="stroke:#000;stroke-width:0.7px;stroke-linejoin:round">3-HOLES</text>
<text x="730.4" y="616" font-size="18.8" font-weight="bold" textLength="44.8" lengthAdjust="spacingAndGlyphs" style="stroke:#000;stroke-width:0.7px;stroke-linejoin:round">BASIN</text>
<text x="778.4" y="616" font-size="18.8" font-weight="bold" textLength="48.4" lengthAdjust="spacingAndGlyphs" style="stroke:#000;stroke-width:0.7px;stroke-linejoin:round">MIXER</text>
<text x="841" y="613.6" font-size="18.4" font-weight="bold" textLength="41" lengthAdjust="spacingAndGlyphs" style="stroke:#000;stroke-width:0.7px;stroke-linejoin:round">WALL</text>
<text x="887" y="613.6" font-size="18.4" font-weight="bold" textLength="78.4" lengthAdjust="spacingAndGlyphs" style="stroke:#000;stroke-width:0.7px;stroke-linejoin:round">MOUNTED</text>
<g><text transform="translate(757.15,640.20) scale(0.8497,1)" font-size="21.6" font-weight="bold" style="stroke:#000;stroke-width:0.5px">C</text><text transform="translate(772.15,640.20) scale(1.0456,1)" font-size="21.6" font-weight="bold" style="stroke:#000;stroke-width:0.5px">T</text><text transform="translate(787.74,640.20) scale(1.0097,1)" font-size="21.6" font-weight="bold" style="stroke:#000;stroke-width:0.5px">2</text><text transform="translate(802.74,640.20) scale(1.0097,1)" font-size="21.6" font-weight="bold" style="stroke:#000;stroke-width:0.5px">2</text><text transform="translate(817.72,640.20) scale(1.0385,1)" font-size="21.6" font-weight="bold" style="stroke:#000;stroke-width:0.5px">2</text><text transform="translate(833.52,640.20) scale(1.0385,1)" font-size="21.6" font-weight="bold" style="stroke:#000;stroke-width:0.5px">2</text><text transform="translate(848.83,640.20) scale(0.8639,1)" font-size="21.6" font-weight="bold" style="stroke:#000;stroke-width:0.5px">C</text><polygon points="867.03,625.34 869.30,625.34 869.30,640.20 867.03,640.20 867.03,628.31 864.44,630.09 863.90,627.87" fill="#000" stroke="none"/><text transform="translate(871.05,640.20) scale(1.0879,1)" font-size="21.6" font-weight="bold" style="stroke:#000;stroke-width:0.5px">8</text></g>
</svg>
</body></html>
